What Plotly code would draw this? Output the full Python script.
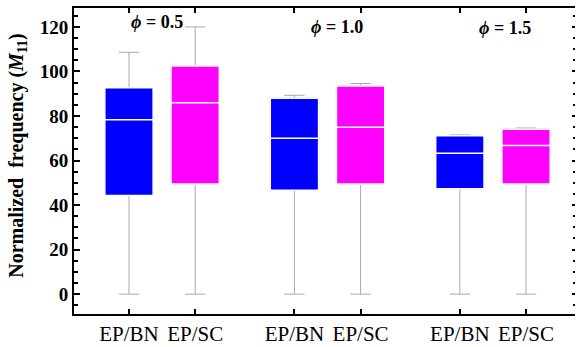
import plotly.graph_objects as go

# Box statistics for each material at each phi value
categories = ["EP/BN", "EP/SC", "EP/BN", "EP/SC", "EP/BN", "EP/SC"]
positions = [1, 2, 3.5, 4.5, 6, 7]
lower_fence = [0, 0, 0, 0, 0, 0]
q1 = [44.3, 49.5, 46.6, 49.5, 47.3, 49.5]
median = [78.3, 86.0, 70.0, 74.9, 63.3, 66.7]
q3 = [92.7, 102.4, 88.0, 93.5, 71.1, 74.1]
upper_fence = [108.6, 120.0, 89.3, 94.6, 71.5, 74.6]

phi_labels = ["\u03d5 = 0.5", "\u03d5 = 1.0", "\u03d5 = 1.5"]
phi_x = [1.42, 4.14, 6.68]
phi_y = [122.2, 120.0, 119.5]

colors = {"EP/BN": "#0000ff", "EP/SC": "#ff00ff"}
serif = "Liberation Serif"

fig = go.Figure()

# Gray whiskers spanning the full range
fig.add_trace(go.Box(
    x=positions, q1=q1, median=median, q3=q3,
    lowerfence=lower_fence, upperfence=upper_fence,
    width=0.73, whiskerwidth=0.42,
    line=dict(color="#a8a8a8", width=1), fillcolor="#a8a8a8",
    showlegend=False, hoverinfo="skip",
))

# Coloured boxes with white median lines
for name in ["EP/BN", "EP/SC"]:
    idx = [i for i, c in enumerate(categories) if c == name]
    fig.add_trace(go.Box(
        x=[positions[i] for i in idx],
        q1=[q1[i] for i in idx],
        median=[median[i] for i in idx],
        q3=[q3[i] for i in idx],
        lowerfence=[q1[i] for i in idx],
        upperfence=[q3[i] for i in idx],
        width=0.73, whiskerwidth=0,
        line=dict(color="white", width=1.5), fillcolor=colors[name],
        name=name, showlegend=False,
    ))

# Right-hand axis showing only tick marks
fig.add_trace(go.Scatter(x=[None], y=[None], yaxis="y2", showlegend=False, hoverinfo="skip"))

for txt, px, py in zip(phi_labels, phi_x, phi_y):
    sym, rest = txt.split(" ", 1)
    fig.add_annotation(
        x=px, y=py, xref="x", yref="y",
        text=f"<b><i>{sym}</i> {rest}</b>", showarrow=False,
        font=dict(family=serif, size=18, color="black"),
    )

fig.add_annotation(
    x=-0.112, y=0.52, xref="paper", yref="paper",
    text="<b>Normalized  frequency (<i>M</i><sub>11</sub>)</b>",
    textangle=-90, showarrow=False, xanchor="center", yanchor="middle",
    font=dict(family=serif, size=20, color="black"),
)

fig.update_layout(
    width=576, height=347,
    margin=dict(l=74, r=1, t=8, b=31),
    plot_bgcolor="white", paper_bgcolor="white",
    boxmode="overlay",
    font=dict(family=serif),
    xaxis=dict(
        range=[0.169, 7.74], tickvals=positions, ticktext=categories,
        showline=True, linecolor="black", linewidth=2, mirror="ticks",
        ticks="inside", ticklen=5, tickwidth=2, tickcolor="black",
        showgrid=False, zeroline=False,
        tickfont=dict(family=serif, size=21, color="black"),
    ),
    yaxis=dict(
        range=[-8.92, 128.5], tickvals=[0, 20, 40, 60, 80, 100, 120],
        showline=True, linecolor="black", linewidth=2,
        ticks="inside", ticklen=6, tickwidth=2, tickcolor="black",
        minor=dict(dtick=5, tick0=0, ticks="inside", ticklen=4, tickwidth=2, tickcolor="black"),
        showgrid=False, zeroline=False,
        tickfont=dict(family=serif, size=19, color="black", weight="bold"),
    ),
    yaxis2=dict(
        overlaying="y", side="right", range=[-8.92, 128.5],
        tickvals=[0, 20, 40, 60, 80, 100, 120], showticklabels=False,
        showline=False, ticks="inside", ticklen=3, tickwidth=2, tickcolor="black",
        minor=dict(dtick=5, tick0=0, ticks="inside", ticklen=2, tickwidth=2, tickcolor="black"),
        showgrid=False, zeroline=False,
    ),
)

fig.write_html("out.html")
